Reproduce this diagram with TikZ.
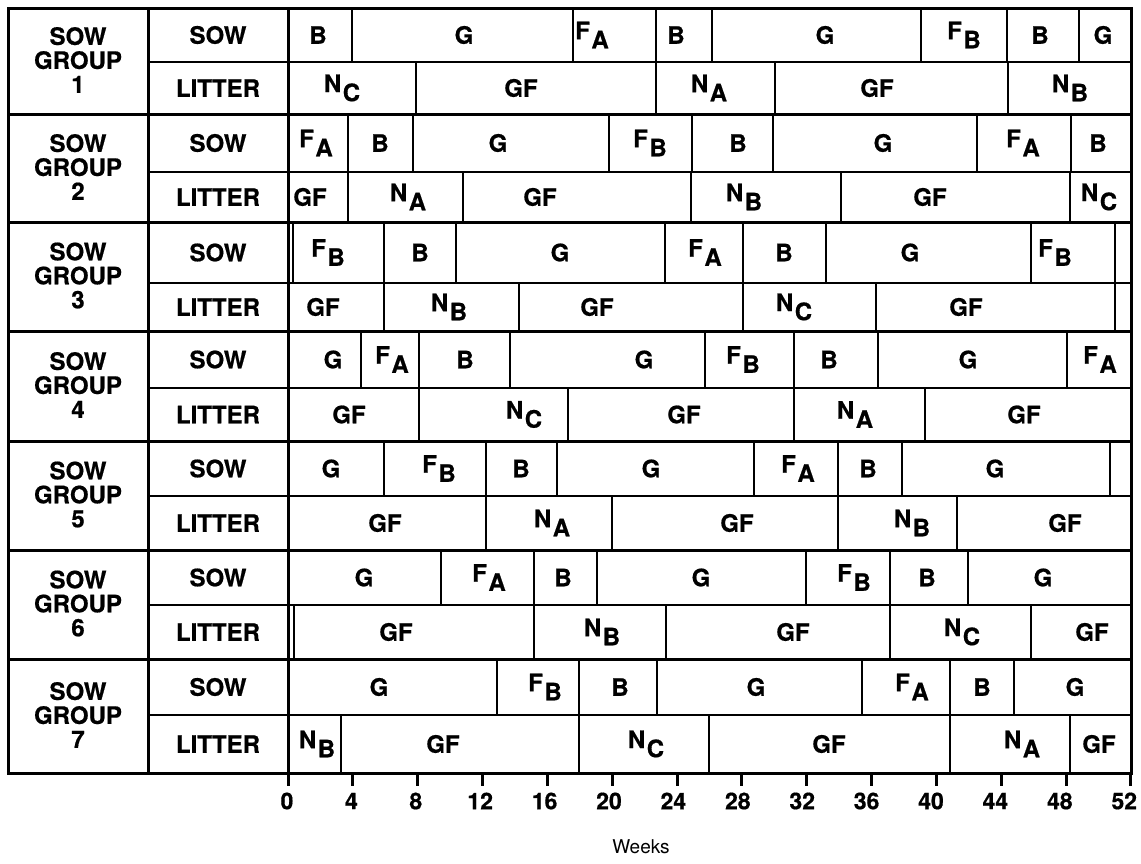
\documentclass[tikz,border=0pt]{standalone}
\usepackage{fontspec}
\setmainfont{TeX Gyre Heros}[BoldFeatures={FakeBold=0.6}]
\newcommand{\lsub}[2]{#1\kern1.5pt\raisebox{-0.38em}{#2}}
\newcommand{\FA}{\lsub{F}{A}}
\newcommand{\FB}{\lsub{F}{B}}
\newcommand{\NA}{\lsub{N}{A}}
\newcommand{\NB}{\lsub{N}{B}}
\newcommand{\NC}{\lsub{N}{C}}
\newcommand{\schedrow}[5]{%
  \foreach \xx in {#4} {\draw[div] (\xx,#2) -- (\xx,#3);}
  \foreach \xx/\tt [count=\ii] in {#5} {\node[lbl] (#1-\ii) at (\xx,{(#2+#3)/2}) {\tt};}
}
\begin{document}
\begin{tikzpicture}[x=1pt,y=-1pt,
  div/.style={line width=2pt},
  thick line/.style={line width=3pt},
  lbl/.style={font=\fontsize{24}{26}\selectfont\bfseries, inner sep=0pt},
  grp/.style={font=\fontsize{24}{24}\selectfont\bfseries, align=center, inner sep=0pt},
  ticklbl/.style={font=\fontsize{23}{24}\selectfont\bfseries, inner sep=0pt},
  tickmark/.style={line width=3pt}]
\useasboundingbox (0,0) rectangle (1141,863);
\fill[white] (0,0) rectangle (1141,863);
% ---- schedule rows: name, top, bottom, dividers, labels
\schedrow{g1s}{8}{62}{352,573,656,712,921,1007,1079}{318/B,464/G,592/\FA,676/B,825/G,964/\FB,1040/B,1103/G}
\schedrow{g1l}{62}{114}{416,656,775,1008}{342/\NC,521/GF,709/\NA,877/GF,1070/\NB}
\schedrow{g2s}{114}{172}{348,413,609,692,773,977,1071}{316/\FA,380/B,498/G,650/\FB,738/B,883/G,1023/\FA,1098/B}
\schedrow{g2l}{172}{222}{348,463,691,841,1070}{310/GF,408/\NA,540/GF,744/\NB,930/GF,1099/\NC}
\schedrow{g3s}{222}{283}{293,384,456,665,743,826,1031,1115}{328/\FB,420/B,560/G,705/\FA,784/B,910/G,1055/\FB}
\schedrow{g3l}{283}{331}{384,519,743,876,1115}{323/GF,449/\NB,597/GF,794/\NC,966/GF}
\schedrow{g4s}{331}{388}{361,419,510,705,794,878,1067}{333/G,392/\FA,465/B,644/G,743/\FB,829/B,968/G,1100/\FA}
\schedrow{g4l}{388}{441}{419,568,794,925}{349/GF,524/\NC,684/GF,855/\NA,1024/GF}
\schedrow{g5s}{441}{496}{384,486,557,754,838,902,1110}{331/G,439/\FB,521/B,651/G,798/\FA,868/B,995/G}
\schedrow{g5l}{496}{550}{486,612,838,957}{385/GF,552/\NA,737/GF,912/\NB,1065/GF}
\schedrow{g6s}{550}{605}{441,534,597,806,890,968}{364/G,489/\FA,563/B,701/G,854/\FB,927/B,1043/G}
\schedrow{g6l}{605}{659}{294,534,666,890,1031}{396/GF,602/\NB,793/GF,962/\NC,1092/GF}
\schedrow{g7s}{659}{715}{497,579,657,862,950,1014}{379/G,545/\FB,620/B,756/G,912/\FA,982/B,1075/G}
\schedrow{g7l}{715}{773}{341,579,709,950,1070}{317/\NB,443/GF,646/\NC,829/GF,1022/\NA,1099/GF}
% ---- sub-row dividers
\foreach \yy in {62,172,283,388,496,605,715} {\draw[div] (148,\yy) -- (1131,\yy);}
% ---- group separators
\foreach \yy in {114,222,331,441,550,659} {\draw[thick line] (8,\yy) -- (1131,\yy);}
% ---- column separators and frame
\draw[thick line] (148,8) -- (148,773);
\draw[thick line] (288,8) -- (288,773);
\draw[thick line] (8,8) rectangle (1131,773);
% ---- left column labels
\foreach \g/\tp/\bt/\sm in {1/8/114/62,2/114/222/172,3/222/331/283,4/331/441/388,5/441/550/496,6/550/659/605,7/659/773/715} {
  \node[grp] (grp\g) at (78,{(\tp+\bt)/2-1}) {SOW\\GROUP\\\g};
  \node[lbl] (sow\g) at (218,{(\tp+\sm)/2}) {SOW};
  \node[lbl] (litter\g) at (218,{(\sm+\bt)/2}) {LITTER};
}
% ---- axis
\foreach \w in {0,4,...,52} {
  \draw[tickmark] ({288+16.21*\w},773) -- ++(0,13);
  \node[ticklbl] (t\w) at ({287+16.1*\w},801) {\w};
}
\node[font=\fontsize{19}{20}\selectfont, inner sep=0pt] (weeks) at (641,847) {Weeks};
\end{tikzpicture}
\end{document}
